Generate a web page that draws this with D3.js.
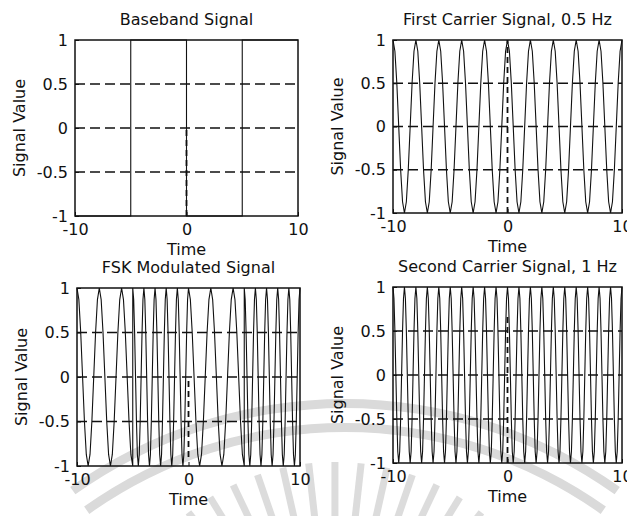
<!DOCTYPE html>
<html>
<head>
<meta charset="utf-8">
<script src="https://cdn.jsdelivr.net/npm/d3@7"></script>
<style>
  body { margin: 0; background: #fff; }
  text { font-family: "DejaVu Sans", sans-serif; font-size: 16px; fill: #111; }
</style>
</head>
<body>
<svg id="fig" width="627" height="516"></svg>
<script>
// values
var timeTicks = [-10, 0, 10];
var valueTicks = [-1, -0.5, 0, 0.5, 1];
var gridValues = [-0.5, 0, 0.5];
var bitEdges = [-10, -5, 0, 5, 10];
var bitLevels = [-1, 1, -1, 1];
var carrierFreqs = [0.5, 1]; // Hz: first carrier for bit -1, second for bit +1
// one period of the carrier, 12 samples, starting at a peak (as seen at t = -10)
var carrierCycle = [1, 0.87, 0.5, 0, -0.5, -0.87, -1, -0.87, -0.5, 0, 0.5, 0.87];
var panelTitles = ["Baseband Signal", "First Carrier Signal, 0.5 Hz",
                   "FSK Modulated Signal", "Second Carrier Signal, 1 Hz"];
// dashed mark at t = 0, from/to signal value
var zeroLineSpans = [[-1, 0], [-1, 1], [-0.9, 0], [-1, 0.7]];

var svg = d3.select("#fig");
svg.append("rect").attr("width", 627).attr("height", 516).attr("fill", "#fff");

// faint watermark of the scanned page
var wm = svg.append("g").attr("fill", "#dadada");
var arc = d3.arc();
[[440, 449], [464, 473]].forEach(function(r) {
  wm.append("path")
    .attr("transform", "translate(345,872)")
    .attr("d", arc({innerRadius: r[0], outerRadius: r[1], startAngle: -0.62, endAngle: 0.62}));
});
d3.range(-38, 39, 6.33).forEach(function(a) {
  var rad = a * Math.PI / 180;
  wm.append("line")
    .attr("x1", 335 + 175 * Math.sin(rad)).attr("y1", 700 - 175 * Math.cos(rad))
    .attr("x2", 335 + 238 * Math.sin(rad)).attr("y2", 700 - 238 * Math.cos(rad))
    .attr("stroke", "#dcdcdc").attr("stroke-width", 7);
});

// build the series
function carrierPoints(freq, t0, t1) {
  var step = 1 / freq / carrierCycle.length;
  var pts = [];
  var n = Math.round((timeTicks[2] - timeTicks[0]) / step);
  for (var k = 0; k <= n; k++) {
    var t = timeTicks[0] + k * step;
    if (t >= t0 - 1e-9 && t <= t1 + 1e-9) pts.push([t, carrierCycle[k % carrierCycle.length]]);
  }
  return pts;
}

var baseband = [];
bitLevels.forEach(function(lv, i) {
  baseband.push([bitEdges[i], lv], [bitEdges[i + 1], lv]);
});

var carrier1 = carrierPoints(carrierFreqs[0], -10, 10);
var carrier2 = carrierPoints(carrierFreqs[1], -10, 10);

var fsk = [];
bitLevels.forEach(function(lv, i) {
  var f = lv < 0 ? carrierFreqs[0] : carrierFreqs[1];
  fsk = fsk.concat(carrierPoints(f, bitEdges[i], bitEdges[i + 1]));
});

var series = [baseband, carrier1, fsk, carrier2];

// panel boxes [left, top, right, bottom]
var boxes = [[75, 40, 298, 216], [393, 40, 622, 213], [77, 288, 300, 466], [393, 287, 622, 463]];

series.forEach(function(data, i) {
  var b = boxes[i];
  var x = d3.scaleLinear().domain([-10, 10]).range([b[0], b[2]]);
  var y = d3.scaleLinear().domain([-1, 1]).range([b[3], b[1]]);
  var g = svg.append("g");

  var line = d3.line().x(d => x(d[0])).y(d => y(d[1]));
  g.append("path")
    .attr("d", line(data))
    .attr("fill", "none")
    .attr("stroke", "#111")
    .attr("stroke-width", 1.1);

  // grid
  g.selectAll(".grid").data(gridValues).enter().append("line")
    .attr("x1", b[0]).attr("x2", b[2])
    .attr("y1", d => y(d)).attr("y2", d => y(d))
    .attr("stroke", "#111").attr("stroke-width", 1.5)
    .attr("stroke-dasharray", "10,5");
  g.append("line")
    .attr("x1", x(0)).attr("x2", x(0))
    .attr("y1", y(zeroLineSpans[i][0])).attr("y2", y(zeroLineSpans[i][1]))
    .attr("stroke", "#111").attr("stroke-width", 1.8)
    .attr("stroke-dasharray", "6,4");

  // axes
  var ya = g.append("g").attr("transform", "translate(" + b[0] + ",0)")
    .call(d3.axisLeft(y).tickValues(valueTicks).tickSize(-4).tickPadding(7)
      .tickFormat(d => String(d)));
  var xa = g.append("g").attr("transform", "translate(0," + b[3] + ")")
    .call(d3.axisBottom(x).tickValues(timeTicks).tickSize(-4).tickPadding(8)
      .tickFormat(d => String(d)));
  [ya, xa].forEach(function(a) {
    a.select(".domain").remove();
    a.selectAll("line").attr("stroke", "#111");
    a.selectAll("text").attr("font-family", null).attr("font-size", null).attr("fill", "#111");
  });

  g.append("rect")
    .attr("x", b[0]).attr("y", b[1])
    .attr("width", b[2] - b[0]).attr("height", b[3] - b[1])
    .attr("fill", "none").attr("stroke", "#111").attr("stroke-width", 1.5);

  // labels
  g.append("text")
    .attr("x", (b[0] + b[2]) / 2).attr("y", b[1] - 15)
    .attr("text-anchor", "middle")
    .text(panelTitles[i]);
  g.append("text")
    .attr("x", x(0)).attr("y", b[3] + 39)
    .attr("text-anchor", "middle")
    .text("Time");
  g.append("text")
    .attr("transform", "translate(" + (b[0] - 50) + "," + ((b[1] + b[3]) / 2) + ") rotate(-90)")
    .attr("text-anchor", "middle")
    .text("Signal Value");
});
</script>
</body>
</html>
